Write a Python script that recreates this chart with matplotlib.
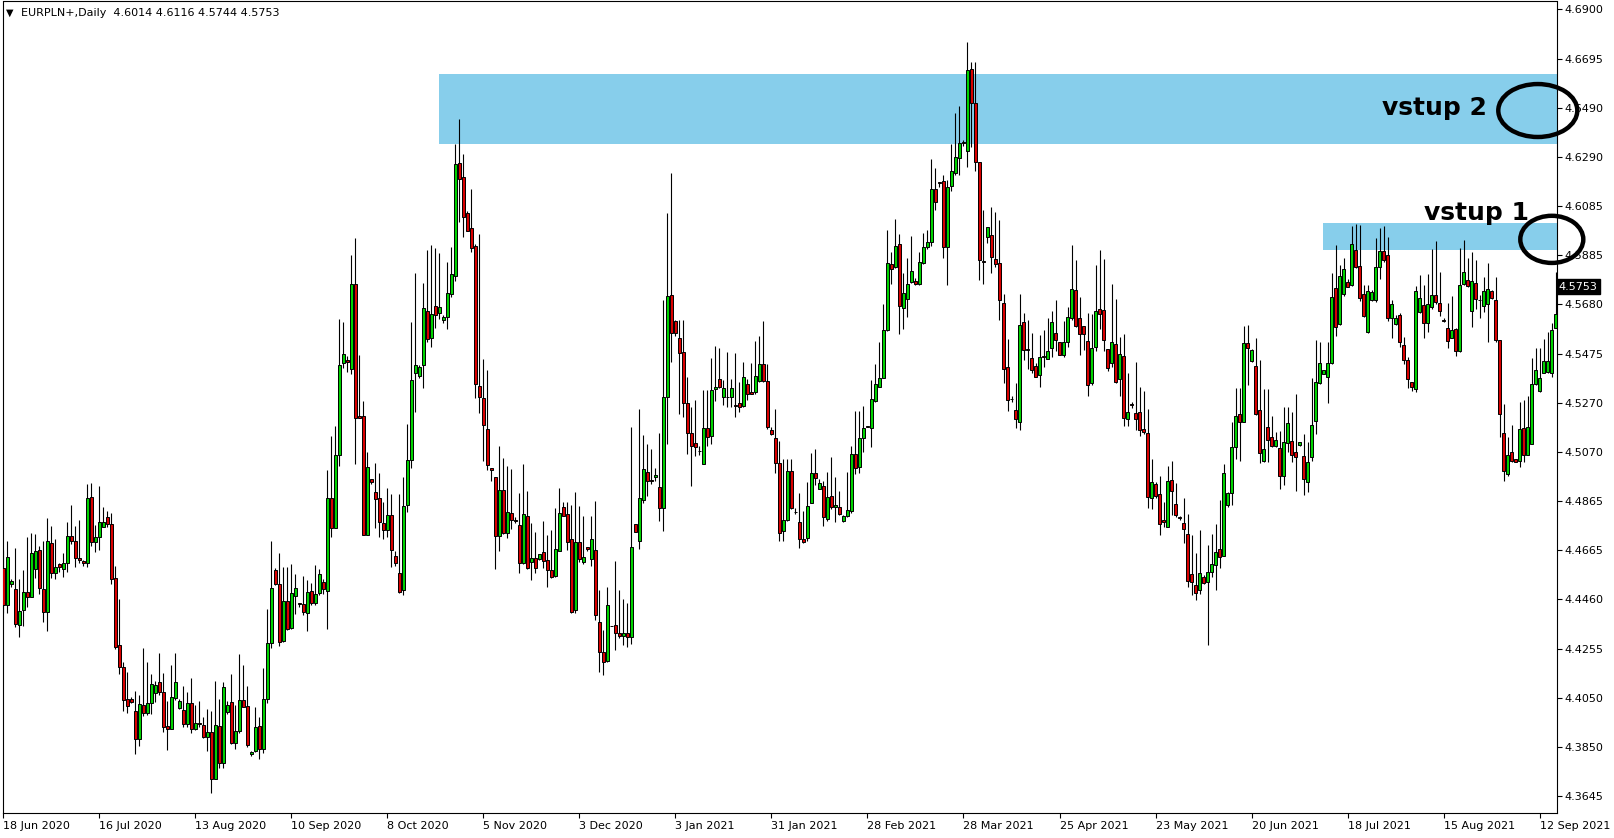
import matplotlib
matplotlib.use("Agg")
from matplotlib import pyplot as plt
from matplotlib.patches import Rectangle, Ellipse
import numpy as np

# daily EURPLN+ candles (bar 0 = 18 Jun 2020)
opens = [
    4.4587, 4.4436, 4.4521, 4.4500, 4.4351, 4.4413, 4.4488, 4.4470, 4.4586, 4.4662,
    4.4500, 4.4408, 4.4692, 4.4566, 4.4604, 4.4583, 4.4608, 4.4720, 4.4699, 4.4629,
    4.4616, 4.4608, 4.4881, 4.4695, 4.4715, 4.4760, 4.4798, 4.4771, 4.4546, 4.4269,
    4.4178, 4.4045, 4.4047, 4.3997, 4.3883, 4.4022, 4.3990, 4.4029, 4.4070, 4.4117,
    4.4074, 4.3935, 4.3924, 4.4052, 4.4008, 4.4001, 4.3943, 4.4029, 4.3924, 4.3949,
    4.3938, 4.3891, 4.3909, 4.3714, 4.3936, 4.3780, 4.3994, 4.4033, 4.3863, 4.3914,
    4.4043, 4.4016, 4.3819, 4.3831, 4.3934, 4.3841, 4.4045, 4.4280, 4.4580, 4.4521,
    4.4288, 4.4451, 4.4339, 4.4473, 4.4445, 4.4438, 4.4401, 4.4492, 4.4442, 4.4484,
    4.4532, 4.4493, 4.4879, 4.4753, 4.5055, 4.5435, 4.5447, 4.5412, 4.5764, 4.5217,
    4.5217, 4.4726, 4.4958, 4.4902, 4.4879, 4.4775, 4.4745, 4.4807, 4.4637, 4.4569,
    4.4496, 4.4848, 4.5035, 4.5395, 4.5383, 4.5427, 4.5652, 4.5539, 4.5672, 4.5643,
    4.5614, 4.5626, 4.5721, 4.5798, 4.6265, 4.6206, 4.6058, 4.5997, 4.5922, 4.5341,
    4.5292, 4.5164, 4.5001, 4.4966, 4.4721, 4.4912, 4.4733, 4.4816, 4.4787, 4.4767,
    4.4608, 4.4802, 4.4614, 4.4631, 4.4626, 4.4655, 4.4621, 4.4580, 4.4556, 4.4657,
    4.4840, 4.4810, 4.4707, 4.4416, 4.4695, 4.4614, 4.4677, 4.4626, 4.4664, 4.4366,
    4.4240, 4.4205, 4.4350, 4.4353, 4.4320, 4.4309, 4.4320, 4.4302, 4.4769, 4.4702,
    4.4870, 4.4985, 4.4953, 4.4966, 4.4922, 4.4835, 4.5295, 4.5717, 4.5612, 4.5539,
    4.5481, 4.5270, 4.5146, 4.5104, 4.5074, 4.5017, 4.5166, 4.5136, 4.5328, 4.5369,
    4.5295, 4.5297, 4.5295, 4.5262, 4.5270, 4.5260, 4.5348, 4.5315, 4.5315, 4.5364,
    4.5431, 4.5362, 4.5158, 4.5125, 4.5022, 4.4742, 4.4787, 4.4988, 4.4822, 4.4777,
    4.4708, 4.4711, 4.4856, 4.4980, 4.4914, 4.4928, 4.4790, 4.4888, 4.4840, 4.4842,
    4.4783, 4.4805, 4.4826, 4.5059, 4.5005, 4.5125, 4.5176, 4.5166, 4.5281, 4.5339,
    4.5376, 4.5572, 4.5845, 4.5833, 4.5928, 4.5663, 4.5700, 4.5770, 4.5776, 4.5762,
    4.5849, 4.5918, 4.5939, 4.6157, 4.6184, 4.6190, 4.5918, 4.6167, 4.6221, 4.6283,
    4.6346, 4.6313, 4.6651, 4.6512, 4.6266, 4.5857, 4.5957, 4.5965, 4.5866, 4.5851,
    4.5684, 4.5418, 4.5289, 4.5241, 4.5194, 4.5605, 4.5493, 4.5457, 4.5424, 4.5385,
    4.5465, 4.5452, 4.5497, 4.5560, 4.5522, 4.5468, 4.5522, 4.5624, 4.5738, 4.5621,
    4.5588, 4.5527, 4.5352, 4.5502, 4.5660, 4.5656, 4.5493, 4.5435, 4.5515, 4.5369,
    4.5465, 4.5203, 4.5266, 4.5228, 4.5233, 4.5164, 4.5148, 4.4879, 4.4937, 4.4895,
    4.4787, 4.4757, 4.4953, 4.4854, 4.4799, 4.4774, 4.4729, 4.4563, 4.4518, 4.4496,
    4.4551, 4.4530, 4.4571, 4.4601, 4.4666, 4.4637, 4.4848, 4.4898, 4.5090, 4.5224,
    4.5191, 4.5518, 4.5443, 4.5424, 4.5241, 4.5031, 4.5170, 4.5129, 4.5094, 4.5086,
    4.4970, 4.5107, 4.5114, 4.5067, 4.5097, 4.5053, 4.4945, 4.5049, 4.5198, 4.5352,
    4.5393, 4.5377, 4.5435, 4.5745, 4.5596, 4.5720, 4.5770, 4.5759, 4.5904, 4.5838,
    4.5720, 4.5563, 4.5697, 4.5697, 4.5832, 4.5900, 4.5883, 4.5621, 4.5596, 4.5635,
    4.5511, 4.5451, 4.5359, 4.5327, 4.5646, 4.5676, 4.5600, 4.5669, 4.5718, 4.5683,
    4.5614, 4.5580, 4.5542, 4.5577, 4.5487, 4.5763, 4.5780, 4.5653, 4.5766, 4.5698,
    4.5673, 4.5680, 4.5734, 4.5697, 4.5531, 4.5149, 4.4976, 4.5067, 4.5039, 4.5031,
    4.5169, 4.5058, 4.5100, 4.5348, 4.5322, 4.5396, 4.5398, 4.5394, 4.5583,
]
highs = [
    4.4663, 4.4700, 4.4542, 4.4670, 4.4543, 4.4580, 4.4715, 4.4732, 4.4729, 4.4680,
    4.4702, 4.4794, 4.4762, 4.4707, 4.4611, 4.4652, 4.4779, 4.4849, 4.4764, 4.4787,
    4.4622, 4.4936, 4.4939, 4.4766, 4.4928, 4.4842, 4.4823, 4.4815, 4.4595, 4.4459,
    4.4198, 4.4158, 4.4056, 4.4080, 4.4062, 4.4256, 4.4198, 4.4149, 4.4120, 4.4238,
    4.4153, 4.4037, 4.4187, 4.4236, 4.4048, 4.4100, 4.4077, 4.4132, 4.4023, 4.4038,
    4.3971, 4.4007, 4.3997, 4.4122, 4.4045, 4.4116, 4.4040, 4.4150, 4.4022, 4.4234,
    4.4187, 4.4100, 4.3833, 4.4014, 4.3971, 4.4176, 4.4418, 4.4700, 4.4587, 4.4649,
    4.4591, 4.4594, 4.4604, 4.4562, 4.4445, 4.4557, 4.4539, 4.4525, 4.4601, 4.4583,
    4.4543, 4.4994, 4.5135, 4.5178, 4.5617, 4.5606, 4.5465, 4.5883, 4.5955, 4.5470,
    4.5280, 4.5069, 4.4958, 4.5023, 4.4981, 4.4863, 4.4920, 4.4894, 4.4657, 4.4894,
    4.4966, 4.5185, 4.5606, 4.5810, 4.5430, 4.5767, 4.5902, 4.5926, 4.5912, 4.5891,
    4.5637, 4.5856, 4.5916, 4.6344, 4.6444, 4.6303, 4.6066, 4.6157, 4.5928, 4.5971,
    4.5453, 4.5409, 4.5001, 4.4966, 4.5093, 4.5043, 4.5009, 4.4998, 4.4799, 4.4899,
    4.5017, 4.4906, 4.4775, 4.4736, 4.4646, 4.4784, 4.4726, 4.4744, 4.4836, 4.4920,
    4.4863, 4.4860, 4.4848, 4.4902, 4.4845, 4.4802, 4.4677, 4.4805, 4.4867, 4.4499,
    4.4330, 4.4511, 4.4350, 4.4618, 4.4496, 4.4461, 4.4442, 4.5173, 4.4769, 4.5246,
    4.5139, 4.5102, 4.5080, 4.5001, 4.5146, 4.5697, 4.6059, 4.6224, 4.5615, 4.5615,
    4.5615, 4.5380, 4.5256, 4.5284, 4.5093, 4.5325, 4.5325, 4.5456, 4.5507, 4.5497,
    4.5366, 4.5484, 4.5369, 4.5477, 4.5357, 4.5442, 4.5369, 4.5438, 4.5529, 4.5548,
    4.5609, 4.5431, 4.5170, 4.5246, 4.5115, 4.5038, 4.5038, 4.5038, 4.4835, 4.4897,
    4.4826, 4.4943, 4.5066, 4.5081, 4.4955, 4.4950, 4.4987, 4.5049, 4.4966, 4.4908,
    4.4808, 4.4986, 4.5093, 4.5238, 4.5238, 4.5259, 4.5176, 4.5366, 4.5431, 4.5525,
    4.5679, 4.5987, 4.5895, 4.6032, 4.5969, 4.5808, 4.5870, 4.5962, 4.5787, 4.5897,
    4.5973, 4.5987, 4.6281, 4.6242, 4.6184, 4.6215, 4.6194, 4.6341, 4.6469, 4.6499,
    4.6361, 4.6765, 4.6681, 4.6681, 4.6266, 4.6070, 4.6000, 4.6083, 4.6062, 4.6030,
    4.5723, 4.5535, 4.5299, 4.5352, 4.5723, 4.5643, 4.5615, 4.5560, 4.5435, 4.5551,
    4.5573, 4.5621, 4.5651, 4.5698, 4.5522, 4.5610, 4.5668, 4.5925, 4.5864, 4.5709,
    4.5588, 4.5643, 4.5640, 4.5842, 4.5904, 4.5867, 4.5493, 4.5764, 4.5701, 4.5543,
    4.5556, 4.5397, 4.5277, 4.5442, 4.5336, 4.5322, 4.5247, 4.5040, 4.4945, 4.4970,
    4.4862, 4.5011, 4.5031, 4.4940, 4.4804, 4.4878, 4.4812, 4.4724, 4.4649, 4.4746,
    4.4558, 4.4684, 4.4729, 4.4770, 4.4870, 4.5020, 4.4903, 4.5194, 4.5335, 4.5335,
    4.5588, 4.5593, 4.5496, 4.5538, 4.5448, 4.5331, 4.5329, 4.5217, 4.5152, 4.5156,
    4.5256, 4.5256, 4.5235, 4.5307, 4.5111, 4.5141, 4.5111, 4.5373, 4.5531, 4.5522,
    4.5407, 4.5525, 4.5807, 4.5924, 4.5842, 4.5869, 4.5784, 4.6004, 4.6011, 4.6007,
    4.5759, 4.5759, 4.5738, 4.5955, 4.5993, 4.6004, 4.5956, 4.5697, 4.5635, 4.5642,
    4.5545, 4.5460, 4.5359, 4.5755, 4.5800, 4.5759, 4.5805, 4.5907, 4.5941, 4.5814,
    4.5621, 4.5683, 4.5715, 4.5580, 4.5911, 4.5945, 4.5869, 4.5897, 4.5862, 4.5718,
    4.5793, 4.5849, 4.5738, 4.5793, 4.5531, 4.5269, 4.5129, 4.5180, 4.5039, 4.5276,
    4.5283, 4.5300, 4.5458, 4.5497, 4.5497, 4.5536, 4.5566, 4.5600, 4.5814,
]
lows = [
    4.4404, 4.4401, 4.4509, 4.4346, 4.4302, 4.4349, 4.4429, 4.4470, 4.4546, 4.4480,
    4.4367, 4.4329, 4.4546, 4.4542, 4.4573, 4.4550, 4.4573, 4.4688, 4.4594, 4.4611,
    4.4598, 4.4594, 4.4680, 4.4653, 4.4663, 4.4757, 4.4757, 4.4522, 4.4252, 4.4150,
    4.3998, 4.3990, 4.4029, 4.3819, 4.3852, 4.3976, 4.3980, 4.3983, 4.4036, 4.4065,
    4.3911, 4.3836, 4.3921, 4.4043, 4.4005, 4.3932, 4.3932, 4.3907, 4.3918, 4.3929,
    4.3884, 4.3833, 4.3656, 4.3714, 4.3760, 4.3763, 4.3985, 4.3860, 4.3841, 4.3906,
    4.4012, 4.3847, 4.3811, 4.3827, 4.3797, 4.3825, 4.4031, 4.4259, 4.4518, 4.4266,
    4.4281, 4.4332, 4.4338, 4.4397, 4.4426, 4.4394, 4.4329, 4.4436, 4.4436, 4.4477,
    4.4481, 4.4338, 4.4717, 4.4753, 4.5009, 4.5415, 4.5399, 4.5389, 4.5017, 4.5208,
    4.4723, 4.4726, 4.4937, 4.4756, 4.4715, 4.4710, 4.4717, 4.4591, 4.4598, 4.4484,
    4.4478, 4.4821, 4.5001, 4.5234, 4.5376, 4.5335, 4.5525, 4.5504, 4.5583, 4.5617,
    4.5603, 4.5579, 4.5709, 4.5775, 4.6020, 4.5958, 4.5981, 4.5897, 4.5292, 4.5231,
    4.5032, 4.4994, 4.4948, 4.4583, 4.4657, 4.4730, 4.4713, 4.4749, 4.4775, 4.4569,
    4.4606, 4.4585, 4.4537, 4.4569, 4.4621, 4.4588, 4.4508, 4.4549, 4.4553, 4.4657,
    4.4802, 4.4664, 4.4404, 4.4404, 4.4614, 4.4606, 4.4657, 4.4595, 4.4373, 4.4159,
    4.4144, 4.4200, 4.4347, 4.4251, 4.4297, 4.4269, 4.4263, 4.4274, 4.4739, 4.4666,
    4.4859, 4.4886, 4.4935, 4.4950, 4.4784, 4.4743, 4.5102, 4.5442, 4.5550, 4.5226,
    4.5215, 4.5060, 4.4928, 4.5052, 4.5056, 4.5017, 4.5093, 4.5102, 4.5281, 4.5332,
    4.5263, 4.5256, 4.5256, 4.5215, 4.5233, 4.5256, 4.5284, 4.5307, 4.5308, 4.5360,
    4.5357, 4.5162, 4.5139, 4.4983, 4.4702, 4.4702, 4.4784, 4.4833, 4.4812, 4.4673,
    4.4691, 4.4700, 4.4856, 4.4932, 4.4914, 4.4764, 4.4784, 4.4833, 4.4777, 4.4808,
    4.4780, 4.4801, 4.4815, 4.4977, 4.4980, 4.5070, 4.5173, 4.5091, 4.5274, 4.5336,
    4.5373, 4.5569, 4.5762, 4.5831, 4.5555, 4.5576, 4.5628, 4.5769, 4.5759, 4.5759,
    4.5846, 4.5907, 4.5922, 4.6070, 4.6166, 4.5870, 4.5759, 4.6150, 4.6216, 4.6216,
    4.6336, 4.6246, 4.6332, 4.6230, 4.5781, 4.5764, 4.5934, 4.5809, 4.5834, 4.5615,
    4.5352, 4.5239, 4.5276, 4.5169, 4.5161, 4.5448, 4.5410, 4.5394, 4.5377, 4.5339,
    4.5419, 4.5452, 4.5460, 4.5485, 4.5468, 4.5460, 4.5502, 4.5615, 4.5585, 4.5468,
    4.5490, 4.5299, 4.5344, 4.5485, 4.5577, 4.5485, 4.5402, 4.5418, 4.5352, 4.5302,
    4.5174, 4.5174, 4.5252, 4.5161, 4.5133, 4.5141, 4.4837, 4.4834, 4.4879, 4.4724,
    4.4759, 4.4757, 4.4809, 4.4800, 4.4787, 4.4691, 4.4510, 4.4476, 4.4458, 4.4480,
    4.4521, 4.4272, 4.4551, 4.4496, 4.4588, 4.4637, 4.4840, 4.4848, 4.5040, 4.5031,
    4.5191, 4.5347, 4.5440, 4.5222, 4.5023, 4.5028, 4.5028, 4.5087, 4.5090, 4.4915,
    4.4931, 4.5069, 4.5028, 4.4908, 4.5094, 4.4890, 4.4901, 4.5031, 4.5143, 4.5349,
    4.5393, 4.5272, 4.5431, 4.5548, 4.5593, 4.5715, 4.5749, 4.5756, 4.5828, 4.5694,
    4.5628, 4.5562, 4.5694, 4.5690, 4.5784, 4.5853, 4.5610, 4.5542, 4.5593, 4.5504,
    4.5431, 4.5334, 4.5322, 4.5318, 4.5642, 4.5538, 4.5566, 4.5660, 4.5680, 4.5631,
    4.5605, 4.5500, 4.5538, 4.5465, 4.5483, 4.5759, 4.5752, 4.5587, 4.5662, 4.5621,
    4.5646, 4.5525, 4.5701, 4.5525, 4.5129, 4.4949, 4.4970, 4.5025, 4.5028, 4.5007,
    4.5028, 4.5056, 4.5100, 4.5345, 4.5318, 4.5394, 4.5394, 4.5380, 4.5580,
]
closes = [
    4.4436, 4.4633, 4.4535, 4.4356, 4.4409, 4.4488, 4.4470, 4.4649, 4.4658, 4.4507,
    4.4408, 4.4699, 4.4566, 4.4594, 4.4594, 4.4608, 4.4720, 4.4699, 4.4629, 4.4623,
    4.4608, 4.4877, 4.4695, 4.4715, 4.4778, 4.4778, 4.4771, 4.4542, 4.4263, 4.4178,
    4.4043, 4.4018, 4.4036, 4.3883, 4.4025, 4.3990, 4.4029, 4.4107, 4.4103, 4.4074,
    4.3932, 4.3924, 4.4054, 4.4116, 4.4038, 4.3943, 4.4029, 4.3924, 4.3946, 4.3943,
    4.3888, 4.3909, 4.3716, 4.3938, 4.3780, 4.4095, 4.4020, 4.3863, 4.3914, 4.4043,
    4.4015, 4.3858, 4.3829, 4.3931, 4.3841, 4.4045, 4.4277, 4.4504, 4.4521, 4.4284,
    4.4453, 4.4336, 4.4484, 4.4504, 4.4440, 4.4405, 4.4491, 4.4442, 4.4482, 4.4565,
    4.4502, 4.4879, 4.4753, 4.5055, 4.5430, 4.5474, 4.5441, 4.5764, 4.5208, 4.5211,
    4.4726, 4.5006, 4.4943, 4.4876, 4.4779, 4.4745, 4.4807, 4.4661, 4.4609, 4.4491,
    4.4845, 4.5035, 4.5366, 4.5427, 4.5419, 4.5664, 4.5537, 4.5638, 4.5634, 4.5667,
    4.5628, 4.5726, 4.5805, 4.6260, 4.6199, 4.6040, 4.5981, 4.5912, 4.5350, 4.5297,
    4.5180, 4.5014, 4.4992, 4.4721, 4.4912, 4.4733, 4.4821, 4.4787, 4.4784, 4.4608,
    4.4813, 4.4588, 4.4631, 4.4588, 4.4646, 4.4618, 4.4580, 4.4553, 4.4667, 4.4817,
    4.4805, 4.4698, 4.4407, 4.4695, 4.4626, 4.4634, 4.4667, 4.4707, 4.4393, 4.4240,
    4.4200, 4.4435, 4.4347, 4.4320, 4.4309, 4.4320, 4.4302, 4.4675, 4.4739, 4.4877,
    4.4997, 4.4950, 4.4950, 4.4972, 4.4835, 4.5295, 4.5713, 4.5559, 4.5562, 4.5477,
    4.5270, 4.5148, 4.5095, 4.5091, 4.5071, 4.5166, 4.5132, 4.5325, 4.5336, 4.5339,
    4.5332, 4.5294, 4.5332, 4.5258, 4.5256, 4.5377, 4.5307, 4.5310, 4.5381, 4.5431,
    4.5361, 4.5173, 4.5142, 4.5022, 4.4732, 4.4787, 4.4988, 4.4835, 4.4819, 4.4707,
    4.4697, 4.4846, 4.4980, 4.4962, 4.4939, 4.4801, 4.4884, 4.4840, 4.4849, 4.4812,
    4.4804, 4.4829, 4.5059, 4.5001, 4.5125, 4.5166, 4.5173, 4.5286, 4.5348, 4.5373,
    4.5572, 4.5849, 4.5824, 4.5919, 4.5674, 4.5728, 4.5762, 4.5819, 4.5762, 4.5853,
    4.5918, 4.5937, 4.6157, 4.6101, 4.6181, 4.5918, 4.6166, 4.6229, 4.6288, 4.6346,
    4.6349, 4.6648, 4.6512, 4.6266, 4.5862, 4.5854, 4.5998, 4.5874, 4.5846, 4.5696,
    4.5410, 4.5282, 4.5286, 4.5203, 4.5593, 4.5490, 4.5490, 4.5407, 4.5380, 4.5460,
    4.5462, 4.5485, 4.5605, 4.5530, 4.5468, 4.5522, 4.5626, 4.5743, 4.5588, 4.5555,
    4.5555, 4.5344, 4.5498, 4.5651, 4.5641, 4.5530, 4.5414, 4.5523, 4.5357, 4.5473,
    4.5208, 4.5233, 4.5263, 4.5203, 4.5158, 4.5153, 4.4884, 4.4945, 4.4887, 4.4770,
    4.4777, 4.4950, 4.4908, 4.4807, 4.4796, 4.4751, 4.4535, 4.4530, 4.4485, 4.4568,
    4.4525, 4.4574, 4.4604, 4.4654, 4.4632, 4.4982, 4.4898, 4.5090, 4.5216, 4.5191,
    4.5518, 4.5498, 4.5490, 4.5224, 4.5064, 4.5080, 4.5120, 4.5094, 4.5120, 4.4970,
    4.5108, 4.5187, 4.5058, 4.5049, 4.5108, 4.4955, 4.5028, 4.5180, 4.5356, 4.5438,
    4.5407, 4.5435, 4.5708, 4.5587, 4.5796, 4.5824, 4.5752, 4.5927, 4.5832, 4.5704,
    4.5631, 4.5734, 4.5729, 4.5832, 4.5900, 4.5862, 4.5621, 4.5679, 4.5621, 4.5522,
    4.5451, 4.5370, 4.5338, 4.5736, 4.5707, 4.5600, 4.5680, 4.5718, 4.5687, 4.5651,
    4.5611, 4.5527, 4.5573, 4.5487, 4.5759, 4.5811, 4.5755, 4.5776, 4.5701, 4.5696,
    4.5734, 4.5741, 4.5704, 4.5531, 4.5224, 4.4989, 4.5056, 4.5031, 4.5028, 4.5163,
    4.5058, 4.5170, 4.5349, 4.5407, 4.5376, 4.5445, 4.5445, 4.5573, 4.5639,
]

date_labels = ['18 Jun 2020', '16 Jul 2020', '13 Aug 2020', '10 Sep 2020', '8 Oct 2020',
               '5 Nov 2020', '3 Dec 2020', '3 Jan 2021', '31 Jan 2021', '28 Feb 2021',
               '28 Mar 2021', '25 Apr 2021', '23 May 2021', '20 Jun 2021', '18 Jul 2021',
               '15 Aug 2021', '12 Sep 2021']
bars_per_label = 24
price_labels = ['4.6900', '4.6695', '4.6490', '4.6290', '4.6085', '4.5885', '4.5680',
                '4.5475', '4.5270', '4.5070', '4.4865', '4.4665', '4.4460', '4.4255',
                '4.4050', '4.3850', '4.3645']

# zones: (start bar, low, high, label)
zone_starts = [108.9, 329.9]
zone_lows = [4.6342, 4.5904]
zone_highs = [4.6632, 4.6017]
zone_names = ['vstup 2', 'vstup 1']
last_price = 4.5753
title = 'EURPLN+,Daily  4.6014 4.6116 4.5744 4.5753'

o = np.array(opens)
h = np.array(highs)
l = np.array(lows)
c = np.array(closes)
x = np.arange(len(o))

fig = plt.figure(figsize=(16.14, 8.38), dpi=100)
ax = fig.add_axes([3 / 1614, 25 / 838, 1554 / 1614, 811.5 / 838])

ax.vlines(x, l, h, color='black', linewidth=0.8, zorder=3)
body_low = np.minimum(o, c)
body_h = np.maximum(np.abs(c - o), 0.00015)
cols = np.where(c >= o, '#00d200', '#d80000')
ax.bar(x, body_h, bottom=body_low, width=0.72, color=cols, edgecolor='black',
       linewidth=0.7, zorder=4)

# supply zones
for x0, lo, hi in zip(zone_starts, zone_lows, zone_highs):
    ax.add_patch(Rectangle((x0, lo), 500, hi - lo, facecolor='#87ceeb',
                           edgecolor='none', zorder=1))

ax.text(357.7, 4.6492, zone_names[0], fontsize=18, fontweight='bold', ha='center',
        va='center', zorder=6)
ax.text(368.2, 4.6057, zone_names[1], fontsize=18, fontweight='bold', ha='center',
        va='center', zorder=6)
ax.add_patch(Ellipse((383.55, 4.6481), 19.75, 0.0219, fill=False, edgecolor='black',
                     linewidth=3.2, clip_on=False, zorder=10))
ax.add_patch(Ellipse((387.05, 4.5948), 15.75, 0.0195, fill=False, edgecolor='black',
                     linewidth=3.2, clip_on=False, zorder=10))

ax.set_xlim(-0.08, 388.35)
ax.set_ylim(4.3575, 4.6932)

ax.set_xticks(np.arange(len(date_labels)) * bars_per_label)
ax.set_xticklabels(date_labels, fontsize=8)
for lab in ax.get_xticklabels():
    lab.set_horizontalalignment('left')
ax.tick_params(axis='x', direction='out', length=3.5, width=0.8, pad=2)

ax.yaxis.tick_right()
ax.set_yticks([float(v) for v in price_labels])
ax.set_yticklabels(price_labels, fontsize=8)
ax.tick_params(axis='y', direction='out', length=3.5, width=0.8, pad=2)

for sp in ax.spines.values():
    sp.set_linewidth(0.8)

ax.text(1.0012, last_price, f'{last_price:.4f}', transform=ax.get_yaxis_transform(),
        fontsize=8, color='white', va='center', ha='left',
        bbox=dict(boxstyle='square,pad=0.2', facecolor='black', edgecolor='black'))

fig.text(6 / 1614, 1 - 12.5 / 838, '▼', fontsize=7, va='center', ha='left')
fig.text(21 / 1614, 1 - 12.5 / 838, title, fontsize=8, va='center', ha='left')

fig.savefig('out.png', dpi=100)
